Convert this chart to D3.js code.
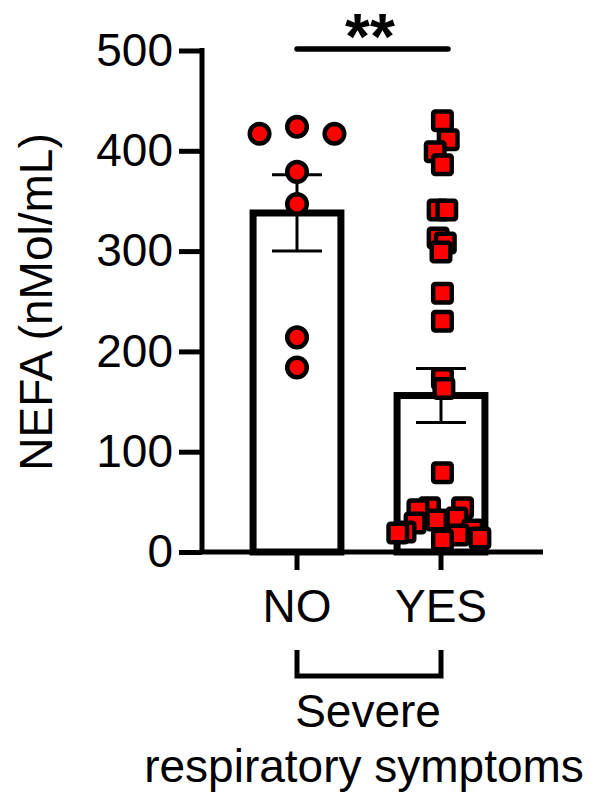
<!DOCTYPE html>
<html>
<head>
<meta charset="utf-8">
<script src="https://cdn.jsdelivr.net/npm/d3@7"></script>
<style>
  body { margin: 0; background: #fff; }
  svg text { font-family: "Liberation Sans", Arial, sans-serif; fill: #000; }
</style>
</head>
<body>
<div id="chart"></div>
<script>
// Data
const groups = ["NO", "YES"];
const groupMeans = [338, 156];
const groupSems = [38, 27];
const noValues = [417, 424, 417, 379, 347, 214, 184];
const noJitter = [-0.26, 0, 0.26, 0, 0, 0, 0];
const yesValues = [430, 411, 399, 386, 341, 341, 313, 308, 299, 258, 230, 173, 163, 79,
                   44, 44, 42, 34, 32, 29, 22, 20, 19, 17, 14, 12];
const yesJitter = [0.01, 0.05, -0.04, 0.01, -0.02, 0.04, -0.02, 0.03, 0, 0.01, 0.01, 0.01, 0.02, 0.01,
                   -0.08, 0.15, -0.16, 0.11, -0.03, -0.18, 0.22, -0.25, -0.30, 0.12, 0.27, 0.01];
const yTicks = [0, 100, 200, 300, 400, 500];
const yLabel = "NEFA (nMol/mL)";
const xTitle = ["Severe", "respiratory symptoms"];
const sigLabel = "**";

const W = 597, H = 801;
const svg = d3.select("#chart").append("svg")
    .attr("width", W)
    .attr("height", H);

// scales
const x = d3.scaleBand().domain(groups).range([225, 513]).padding(0);
const y = d3.scaleLinear().domain([0, 500]).range([552, 50.5]);
const barW = x.bandwidth() * 0.61;
const cx = function(g) { return x(g) + x.bandwidth() / 2; };
const axisX0 = 202;

// bars
svg.selectAll(".bar")
    .data(groups)
    .enter().append("rect")
      .attr("class", "bar")
      .attr("x", function(d) { return cx(d) - barW / 2; })
      .attr("y", function(d, i) { return y(groupMeans[i]); })
      .attr("width", barW)
      .attr("height", function(d, i) { return y(0) - y(groupMeans[i]); })
      .attr("fill", "#fff")
      .attr("stroke", "#000")
      .attr("stroke-width", 7);

// error bars (SEM)
const capW = 50;
const err = svg.selectAll(".err")
    .data(groups)
    .enter().append("g")
      .attr("class", "err")
      .attr("stroke", "#000")
      .attr("stroke-width", 3);
err.append("line")
    .attr("x1", cx).attr("x2", cx)
    .attr("y1", function(d, i) { return y(groupMeans[i] - groupSems[i]); })
    .attr("y2", function(d, i) { return y(groupMeans[i] + groupSems[i]); });
err.append("line")
    .attr("x1", function(d) { return cx(d) - capW / 2; })
    .attr("x2", function(d) { return cx(d) + capW / 2; })
    .attr("y1", function(d, i) { return y(groupMeans[i] + groupSems[i]); })
    .attr("y2", function(d, i) { return y(groupMeans[i] + groupSems[i]); });
err.append("line")
    .attr("x1", function(d) { return cx(d) - capW / 2; })
    .attr("x2", function(d) { return cx(d) + capW / 2; })
    .attr("y1", function(d, i) { return y(groupMeans[i] - groupSems[i]); })
    .attr("y2", function(d, i) { return y(groupMeans[i] - groupSems[i]); });

// x axis
const xAxis = d3.axisBottom(x)
    .tickSizeInner(18)
    .tickSizeOuter(0)
    .tickPadding(19);
const gx = svg.append("g")
    .attr("transform", "translate(0," + y(0) + ")")
    .call(xAxis);
gx.select(".domain").attr("d", "M" + (axisX0 - 2.5) + ",0H543");
gx.selectAll("path, line").attr("stroke", "#000").attr("stroke-width", 5);
gx.selectAll("text").style("font-size", "46px");

// y axis
const yAxis = d3.axisLeft(y)
    .tickValues(yTicks)
    .tickSizeInner(23)
    .tickSizeOuter(0)
    .tickPadding(6);
const gy = svg.append("g")
    .attr("transform", "translate(" + axisX0 + ",0)")
    .call(yAxis);
gy.select(".domain").attr("d", "M0," + (y(500) - 2.5) + "V" + y(0));
gy.selectAll("path, line").attr("stroke", "#000").attr("stroke-width", 5);
gy.selectAll("text").style("font-size", "46px");

// NO points (circles)
svg.selectAll(".dotNo")
    .data(noValues)
    .enter().append("circle")
      .attr("class", "dotNo")
      .attr("cx", function(d, i) { return cx("NO") + noJitter[i] * x.bandwidth(); })
      .attr("cy", function(d) { return y(d); })
      .attr("r", 9.8)
      .attr("fill", "#ff0000")
      .attr("stroke", "#000")
      .attr("stroke-width", 4.5);

// YES points (squares)
const sq = 18.5;
svg.selectAll(".dotYes")
    .data(yesValues)
    .enter().append("rect")
      .attr("class", "dotYes")
      .attr("x", function(d, i) { return cx("YES") + yesJitter[i] * x.bandwidth() - sq / 2; })
      .attr("y", function(d) { return y(d) - sq / 2; })
      .attr("width", sq)
      .attr("height", sq)
      .attr("rx", 2)
      .attr("fill", "#ff0000")
      .attr("stroke", "#000")
      .attr("stroke-width", 4.5);

// significance bar
svg.append("line")
    .attr("x1", cx("NO")).attr("x2", cx("YES") + 7)
    .attr("y1", 49).attr("y2", 49)
    .attr("stroke", "#000")
    .attr("stroke-width", 5.5)
    .attr("stroke-linecap", "round");
svg.append("text")
    .attr("x", (cx("NO") + cx("YES")) / 2 + 1)
    .attr("y", 59)
    .attr("text-anchor", "middle")
    .style("font-size", "64px")
    .style("font-weight", "bold")
    .text(sigLabel);

// y label
svg.append("text")
    .attr("transform", "translate(52,302) rotate(-90)")
    .attr("text-anchor", "middle")
    .style("font-size", "46px")
    .text(yLabel);

// group bracket under x axis
svg.append("path")
    .attr("d", "M" + cx("NO") + ",650V676H" + cx("YES") + "V650")
    .attr("fill", "none")
    .attr("stroke", "#000")
    .attr("stroke-width", 5);

svg.selectAll(".xtitle")
    .data(xTitle)
    .enter().append("text")
      .attr("class", "xtitle")
      .attr("x", function(d, i) { return i === 0 ? 368 : 364; })
      .attr("y", function(d, i) { return 727 + i * 55; })
      .attr("text-anchor", "middle")
      .style("font-size", "46px")
      .text(function(d) { return d; });
</script>
</body>
</html>
